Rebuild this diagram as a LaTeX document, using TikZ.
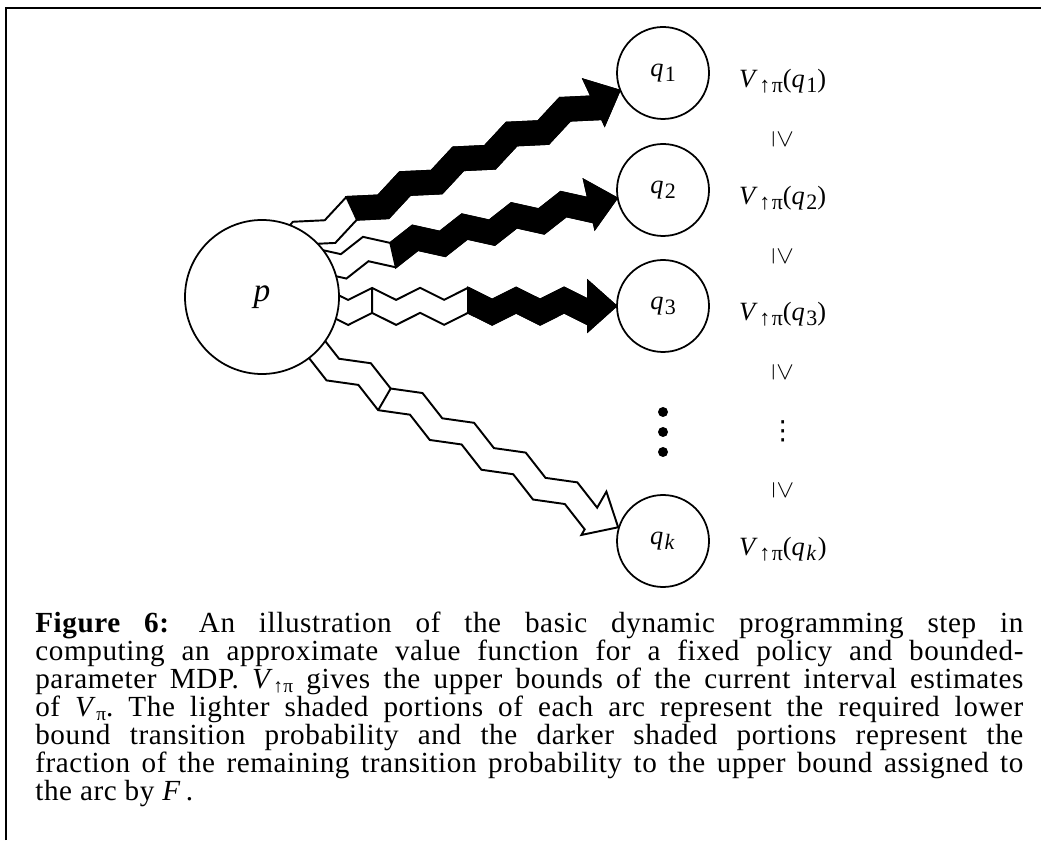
\documentclass[tikz,border=0pt]{standalone}
\usepackage{fontspec}
\setmainfont{Liberation Serif}
\newfontfamily\symfont{DejaVu Sans}
\usetikzlibrary{calc,positioning,backgrounds}

\tikzset{
  state/.style={draw, circle, line width=1pt, fill=white, inner sep=0pt,
    minimum size=1.84cm, font=\fontsize{15}{17}\selectfont\addfontfeatures{LetterSpace=5}},
  bound/.style={inner sep=0pt, font=\fontsize{15}{17}\selectfont\addfontfeatures{LetterSpace=6}},
  geq/.style={inner sep=0pt, rotate=-90, font=\fontsize{14}{14}\selectfont},
  band/.style={draw, line width=1.1pt, line join=miter},
}

% subscripts
\newcommand{\sub}[1]{\raisebox{-0.45ex}{\fontsize{12.5}{13}\selectfont #1}}
\newcommand{\capsub}[1]{\raisebox{-0.25ex}{\fontsize{11}{11}\selectfont #1}}

% zigzag arc from #1 to #2, half period #3 (cm),
% white divider #4 and dark part from #5 (half periods back from the head, 0 = none)
\newcommand{\zigarc}[5]{%
  \path let \p1=(#1), \p2=(#2) in \pgfextra{%
    \pgfmathsetmacro\zang{atan2(\y2-\y1,\x2-\x1)}\global\let\zang\zang
    \pgfmathsetmacro\zlen{veclen(\x2-\x1,\y2-\y1)/28.4527}\global\let\zlen\zlen
    \pgfmathsetmacro\zbase{\zlen-0.56}\global\let\zbase\zbase};
  \begin{scope}[shift={(#1)}, rotate=\zang]
    \filldraw[band, fill=white] ({\zbase-12*#3}, 0.13)
      \foreach \m in {11,...,0} { -- ({\zbase-\m*#3}, {0.13+0.24*mod(\m,2)}) }
      -- (\zbase, 0.5) -- (\zlen, 0) -- (\zbase, -0.5)
      \foreach \m in {0,...,12} { -- ({\zbase-\m*#3}, {-0.37+0.24*mod(\m,2)}) } -- cycle;
    \ifnum#4>0
      \draw[band] ({\zbase-#4*#3}, {0.13+0.24*mod(#4,2)}) -- ++(0,-0.5);
    \fi
    \ifnum#5>0
      \filldraw[band, fill=black] ({\zbase-#5*#3}, {0.13+0.24*mod(#5,2)})
        \foreach \m in {#5,...,0} { -- ({\zbase-\m*#3}, {0.13+0.24*mod(\m,2)}) }
        -- (\zbase, 0.5) -- (\zlen, 0) -- (\zbase, -0.5)
        \foreach \m in {0,...,#5} { -- ({\zbase-\m*#3}, {-0.37+0.24*mod(\m,2)}) } -- cycle;
    \fi
  \end{scope}}

\begin{document}
\begin{tikzpicture}
\useasboundingbox (0,0) rectangle (20.82,16.8);
\draw[line width=1.1pt] (0.12,0) -- (0.12,16.64) -- (20.82,16.64);

% states
\node[state, minimum size=3.08cm, font=\fontsize{19}{20}\selectfont] (p) at (5.24,10.86) {\textit{p}};
\node[state] (q1) at (13.26,15.34) {\textit{q}\sub{1}};
\node[state] (q2) at (13.26,13.0) {\textit{q}\sub{2}};
\node[state] (q3) at (13.26,10.68) {\textit{q}\sub{3}};
\node[state] (qk) at (13.26,5.98) {\textit{q}\sub{\textit{k}}};

\foreach \y in {8.56,8.16,7.76}
  \fill (13.26,\y) circle (0.1);

% upper bounds
\node[bound, right=0.58cm of q1, yshift=-0.16cm] (v1) {\textit{V}\sub{↑π}(\textit{q}\sub{1})};
\node[bound, right=0.58cm of q2, yshift=-0.16cm] (v2) {\textit{V}\sub{↑π}(\textit{q}\sub{2})};
\node[bound, right=0.58cm of q3, yshift=-0.16cm] (v3) {\textit{V}\sub{↑π}(\textit{q}\sub{3})};
\node[bound, right=0.58cm of qk, yshift=-0.16cm] (vk) {\textit{V}\sub{↑π}(\textit{q}\sub{\textit{k}})};

\node[geq] (g1) at ($(v1)!0.5!(v2)$) {$\geq$};
\node[geq] (g2) at ($(v2)!0.5!(v3)$) {$\geq$};
\node[geq] (g3) at ($(v3)!0.25!(vk)$) {$\geq$};
\node[inner sep=0pt, font=\symfont\fontsize{15}{15}\selectfont] (vd) at ($(v3)!0.5!(vk)$) {⋮};
\node[geq] (g4) at ($(v3)!0.75!(vk)$) {$\geq$};

% arcs
\begin{pgfonlayer}{background}
\zigarc{p.53}{q1.202}{0.588}{0}{9}
\zigarc{p.26}{q2.190}{0.507}{0}{8}
\zigarc{p.-7}{q3.180}{0.48}{9}{5}
\zigarc{p.-46}{qk.163}{0.596}{8}{0}
\end{pgfonlayer}

\node[anchor=north west, inner sep=0pt, text width=19.76cm, align=justify,
  font=\fontsize{16.6}{15.9}\selectfont\addfontfeatures{LetterSpace=2}\frenchspacing] (cap) at (0.7,4.56)
  {\textbf{Figure 6:}\quad An illustration of the basic dynamic programming step in\linebreak
   computing an approximate value function for a fixed policy and bounded-\linebreak
   parameter MDP. \textit{V}\capsub{↑π} gives the upper bounds of the current interval estimates\linebreak
   of \textit{V}\capsub{π}. The lighter shaded portions of each arc represent the required lower\linebreak
   bound transition probability and the darker shaded portions represent the\linebreak
   fraction of the remaining transition probability to the upper bound assigned to\linebreak
   the arc by \textit{F}\,.};
\end{tikzpicture}
\end{document}
